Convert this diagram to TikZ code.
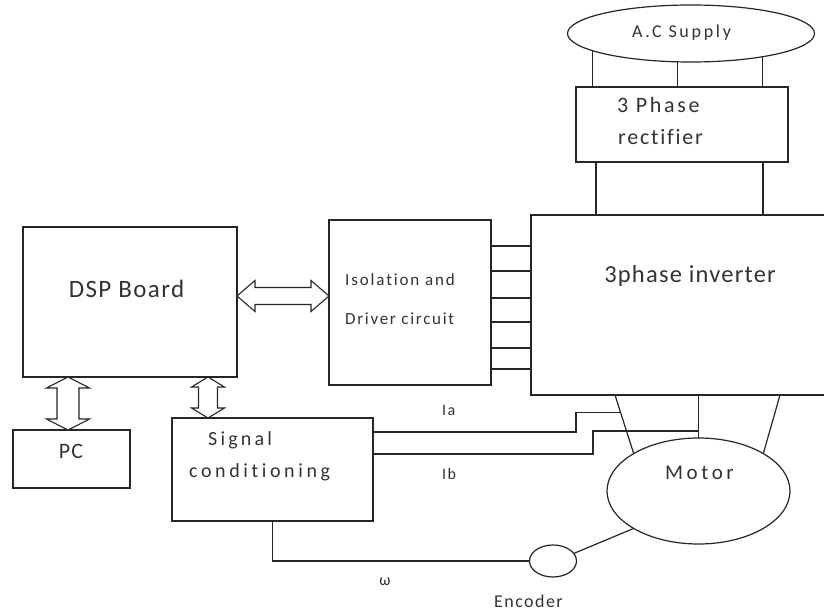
\documentclass[tikz,border=0pt]{standalone}
\usepackage{fontspec}
\setmainfont[Ligatures=NoCommon]{Carlito}
\usetikzlibrary{shapes.geometric,calc}
\newcommand\fs[2]{\fontsize{#1}{#1}\selectfont\addfontfeature{LetterSpace=#2}}
\newcommand\harr[5]{\draw[arrshape] (#1) -- ($(#1)+(#3,-#4)$) -- ($(#1)+(#3,-#5)$) -- ($(#2)+(-#3,-#5)$) -- ($(#2)+(-#3,-#4)$) -- (#2) -- ($(#2)+(-#3,#4)$) -- ($(#2)+(-#3,#5)$) -- ($(#1)+(#3,#5)$) -- ($(#1)+(#3,#4)$) -- cycle;}
\newcommand\varr[5]{\draw[arrshape] (#1) -- ($(#1)+(#4,#3)$) -- ($(#1)+(#5,#3)$) -- ($(#2)+(#5,-#3)$) -- ($(#2)+(#4,-#3)$) -- (#2) -- ($(#2)+(-#4,-#3)$) -- ($(#2)+(-#5,-#3)$) -- ($(#1)+(-#5,#3)$) -- ($(#1)+(-#4,#3)$) -- cycle;}
\tikzset{
  wire/.style={line width=1.2pt, draw=black!85},
  box/.style={rectangle, draw=black!85, line width=1.2pt, inner sep=0, outer sep=0},
  oval/.style={ellipse, draw=black!85, line width=1.2pt, inner sep=0, outer sep=0},
  arrshape/.style={line width=1.1pt, draw=black!85, fill=white, line join=miter},
  lbl/.style={inner sep=0, text=black!80, anchor=base west},
  clbl/.style={inner sep=0, text=black!80, anchor=base},
}
\begin{document}
\begin{tikzpicture}[x=1pt,y=-1pt]
\clip (0,0) rectangle (824,612);
\fill[white] (0,0) rectangle (824,612);
% blocks
\node[oval, minimum width=247, minimum height=57] (ac) at (691,33.5) {};
\node[box, minimum width=212, minimum height=75] (rect) at (682,124.5) {};
\node[box, minimum width=330, minimum height=180] (inv) at (696,305) {};
\node[box, minimum width=162, minimum height=165] (iso) at (410,302.5) {};
\node[box, minimum width=214, minimum height=150] (dsp) at (130,302) {};
\node[box, minimum width=117, minimum height=58] (pc) at (71.5,459) {};
\node[box, minimum width=201, minimum height=103] (sig) at (272.5,469.5) {};
\node[oval, minimum width=183, minimum height=106] (motor) at (698.5,491) {};
\node[oval, minimum width=47, minimum height=32] (enc) at (553,561) {};
% labels
\node[clbl, font=\fs{18}{15}] (tac) at (681.5,38) {A.C Supply};
\node[lbl, font=\fs{22}{12}] (tr1) at (617,113) {3 Phase};
\node[lbl, font=\fs{22}{8}] (tr2) at (618,145) {rectifier};
\node[clbl, font=\fs{24.5}{5}] (tinv) at (690,283) {3phase inverter};
\node[lbl, font=\fs{17}{11}] (tiso1) at (345,285) {Isolation and};
\node[lbl, font=\fs{17}{10}] (tiso2) at (345,324) {Driver circuit};
\node[clbl, font=\fs{25}{5.5}] (tdsp) at (126.5,297) {DSP Board};
\node[clbl, font=\fs{22}{5}] (tpc) at (71,458) {PC};
\node[lbl, font=\fs{20}{16}] (tsig1) at (208,445) {Signal};
\node[lbl, font=\fs{20}{18}] (tsig2) at (189,477) {conditioning};
\node[clbl, font=\fs{21}{17}] (tmot) at (699.5,479) {Motor};
\node[clbl, font=\fs{18}{8}] (tenc) at (528.5,607) {Encoder};
\node[lbl, font=\fs{16}{8}] (tia) at (442,415) {Ia};
\node[lbl, font=\fs{16}{8}] (tib) at (442,479) {Ib};
\node[clbl, font=\fs{16}{0}] (tw) at (385,585) {ω};
% supply to rectifier
\foreach \a in {190,244,342} \draw[wire] (ac.\a) -- (ac.\a |- rect.north);
% rectifier to inverter
\coordinate (r1) at ($(rect.south west)+(20,0)$);
\coordinate (r2) at ($(rect.south east)+(-25,0)$);
\draw[wire] (r1) -- (r1 |- inv.north);
\draw[wire] (r2) -- (r2 |- inv.north);
% gate lines
\foreach \d in {26,51,78,102,128,149} {
  \coordinate (g) at ($(iso.north east)+(0,\d)$);
  \draw[wire] (g) -- (g -| inv.west);
}
% inverter to motor
\coordinate (m1) at ($(inv.south west)+(84,0)$);
\coordinate (m3) at ($(inv.south west)+(249,0)$);
\coordinate (m2) at (motor.north |- inv.south);
\draw[wire] (m1) -- (motor.150);
\draw[wire] (m2) -- (motor.north);
\draw[wire] (m3) -- (motor.30);
% current sensing
\coordinate (ia) at ($(m1)!0.293!(motor.150)$);
\coordinate (ib) at ($(m2)!0.837!(motor.north)$);
\coordinate (iaS) at ($(sig.north east)+(0,14)$);
\coordinate (ibS) at ($(sig.north east)+(0,36)$);
\draw[wire] (iaS) -- ++(203,0) |- (ia);
\draw[wire] (ibS) -- ++(220,0) |- (ib);
% encoder
\draw[wire] (sig.south) |- (enc.west);
\draw[wire] (enc.20) -- (motor.210);
% double arrows
\coordinate (h1) at ($(dsp.north east)+(0,69)$);
\coordinate (h2) at (h1 -| iso.west);
\harr{h1}{h2}{18}{15.5}{8.5}
\coordinate (v1) at ($(dsp.south west)+(45,0)$);
\coordinate (v2) at (v1 |- pc.north);
\varr{v1}{v2}{11}{21.5}{11}
\coordinate (u1) at ($(dsp.south west)+(185,0)$);
\coordinate (u2) at (u1 |- sig.north);
\varr{u1}{u2}{10}{16.5}{9.5}
\end{tikzpicture}
\end{document}
